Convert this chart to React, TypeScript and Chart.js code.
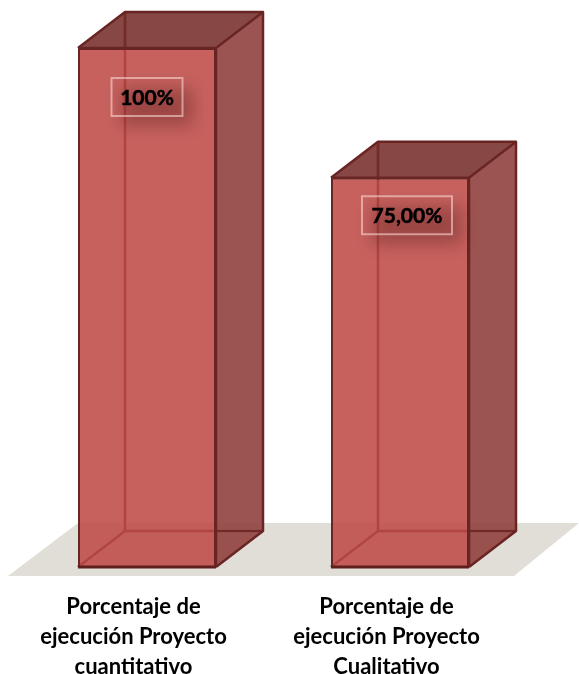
import React, { useEffect, useRef } from "react";
import { Chart, registerables } from "chart.js";

Chart.register(...registerables);

const categories: string[][] = [
  ["Porcentaje de", "ejecución Proyecto", "cuantitativo"],
  ["Porcentaje de", "ejecución Proyecto", "Cualitativo"],
];
const values: number[] = [100, 75];
const valueLabels: string[] = ["100%", "75,00%"];

const DX = 47;
const DY = -36;
const LINE = "#682523";

const line = (c: CanvasRenderingContext2D, pts: number[][], color: string, w = 2) => {
  c.save();
  c.strokeStyle = color;
  c.lineWidth = w;
  c.lineJoin = "round";
  c.beginPath();
  pts.forEach(([x, y], i) => (i ? c.lineTo(x, y) : c.moveTo(x, y)));
  c.stroke();
  c.restore();
};
const poly = (c: CanvasRenderingContext2D, pts: number[][], color: string) => {
  c.save();
  c.fillStyle = color;
  c.beginPath();
  pts.forEach(([x, y], i) => (i ? c.lineTo(x, y) : c.moveTo(x, y)));
  c.closePath();
  c.fill();
  c.restore();
};

const box3d = {
  id: "box3d",
  beforeDatasetsDraw(chart: any) {
    const c = chart.ctx as CanvasRenderingContext2D;
    const base = chart.scales.y.getPixelForValue(0);
    const first = chart.getDatasetMeta(0).data[0];
    const last = chart.getDatasetMeta(0).data[1];
    const fl = first.x - first.width / 2 - 70;
    const fr = last.x + last.width / 2 + 45;
    poly(c, [[fl, base + 9], [fl + 70, base - 44], [fr + 65, base - 44], [fr, base + 9]], "#e0ded6");
    chart.getDatasetMeta(0).data.forEach((b: any) => {
      const l = b.x - b.width / 2, r = b.x + b.width / 2, t = b.y;
      line(c, [[l + DX, t + DY], [l + DX, base + DY], [r + DX, base + DY]], "#5a1c1a", 2.5);
      line(c, [[l, base], [l + DX, base + DY]], "#5a1c1a", 2.5);
    });
  },
  afterDatasetsDraw(chart: any) {
    const c = chart.ctx as CanvasRenderingContext2D;
    const base = chart.scales.y.getPixelForValue(0);
    chart.getDatasetMeta(0).data.forEach((b: any, i: number) => {
      const l = b.x - b.width / 2, r = b.x + b.width / 2, t = b.y;
      poly(c, [[r, t], [r + DX, t + DY], [r + DX, base + DY], [r, base]], "rgba(145,65,63,0.9)");
      poly(c, [[l, t], [r, t], [r + DX, t + DY], [l + DX, t + DY]], "rgba(125,55,53,0.92)");
      line(c, [[l + DX, t + DY], [l + DX, t]], "#722c2a", 2.5);
      line(c, [[r, base], [r + DX, base + DY], [r + DX, t + DY], [l + DX, t + DY], [l, t]], LINE, 2.5);
      line(c, [[r, base], [r, t], [r + DX, t + DY]], LINE, 2.5);
      line(c, [[l, t], [r, t]], LINE, 2.5);
      line(c, [[r, base + DY], [r + DX, base + DY]], "rgba(104,37,35,0.8)", 2);
      line(c, [[l, base], [r, base]], "#5e1f1d", 3);

      const w = i === 0 ? 71 : 90;
      const cx = b.x + (i === 0 ? 0 : 7);
      const cy = t + (i === 0 ? 49 : 37.5);
      const h = 38;
      c.save();
      c.shadowColor = "rgba(70,20,20,0.32)";
      c.shadowBlur = 16;
      c.shadowOffsetX = 1000 + 10;
      c.shadowOffsetY = 10;
      c.fillStyle = "#000";
      c.fillRect(cx - w / 2 - 1000, cy - h / 2, w, h);
      c.restore();
      c.strokeStyle = "rgba(255,225,220,0.55)";
      c.lineWidth = 2;
      c.strokeRect(cx - w / 2, cy - h / 2, w, h);
      c.fillStyle = "#000";
      c.strokeStyle = "#000";
      c.lineWidth = 0.5;
      c.font = "bold 21px Lato";
      c.textAlign = "center";
      c.textBaseline = "middle";
      c.fillText(valueLabels[i], cx, cy + 1);
      c.strokeText(valueLabels[i], cx, cy + 1);
    });
  },
};

export default function App() {
  const ref = useRef<HTMLCanvasElement>(null);
  useEffect(() => {
    document.body.style.margin = "0";
    const chart = new Chart(ref.current as HTMLCanvasElement, {
      type: "bar",
      data: {
        labels: categories,
        datasets: [
          {
            data: values,
            backgroundColor: "rgba(190,75,72,0.88)",
            borderColor: LINE,
            borderWidth: 2,
            barPercentage: 1,
            categoryPercentage: 138 / 253,
          },
        ],
      },
      options: {
        responsive: false,
        animation: false,
        layout: { padding: { left: 20.5, right: 52.5, top: 48, bottom: 0 } },
        plugins: { legend: { display: false }, tooltip: { enabled: false } },
        scales: {
          y: { display: false, min: 0, max: 100 },
          x: {
            grid: { display: false },
            border: { display: false },
            afterFit: (s: any) => {
              s.height = 107;
            },
            ticks: {
              color: "#000",
              padding: 17,
              labelOffset: -13.5,
              maxRotation: 0,
              autoSkip: false,
              font: { family: "Lato", weight: "bold", size: 22, lineHeight: 30 / 22 },
            },
          },
        },
      },
      plugins: [box3d],
    } as any);
    return () => chart.destroy();
  }, []);
  return <canvas ref={ref} width={579} height={674} style={{ display: "block" }} />;
}
